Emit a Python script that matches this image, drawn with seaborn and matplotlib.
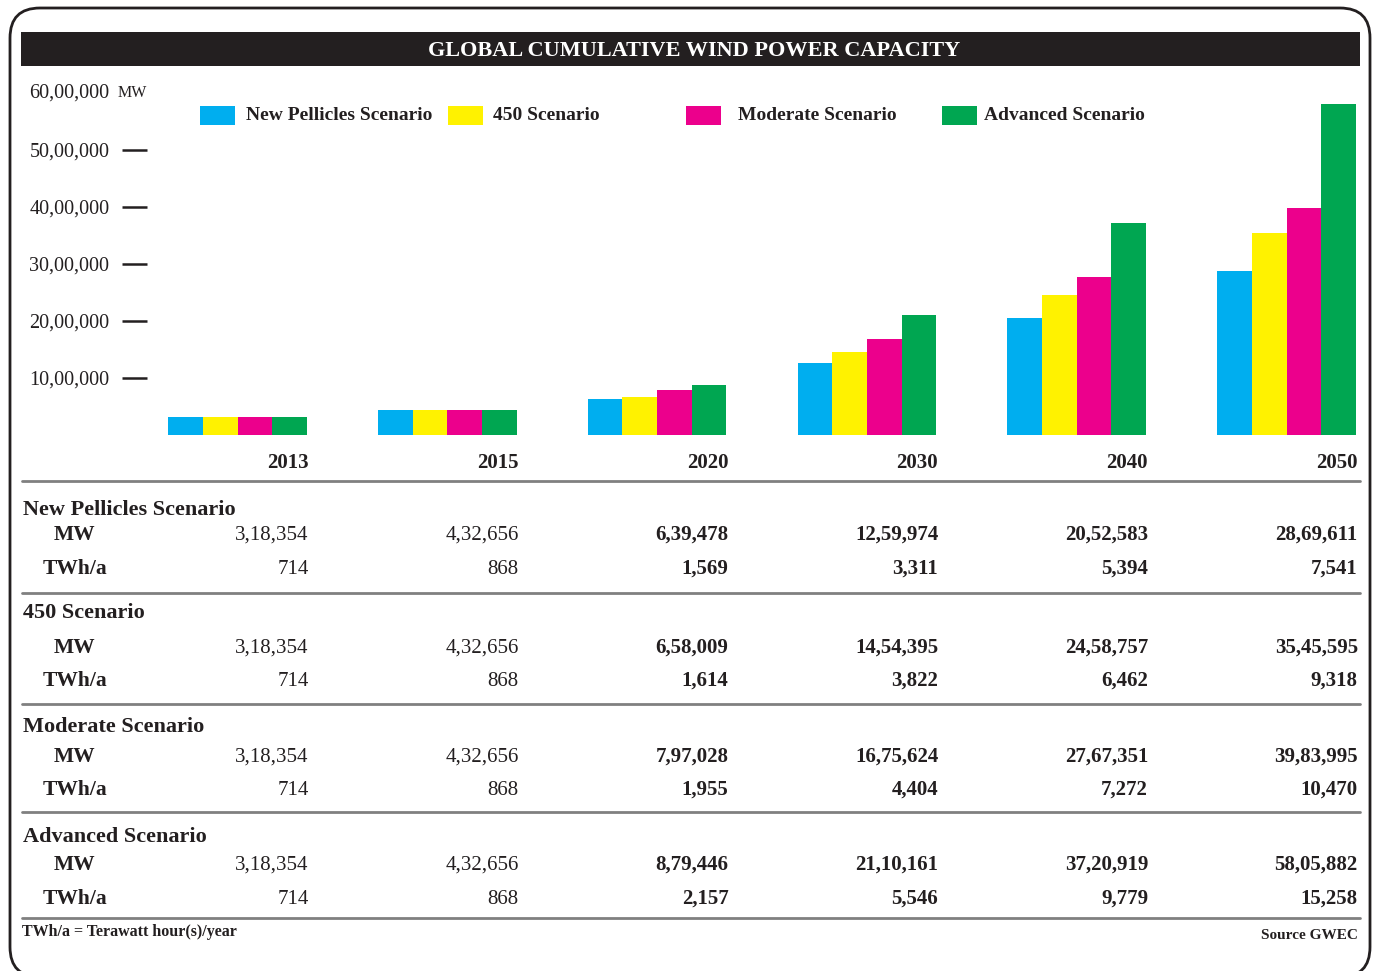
import matplotlib
matplotlib.use("Agg")
import matplotlib.pyplot as plt
import matplotlib.transforms as mtransforms
from matplotlib.patches import FancyBboxPatch, Rectangle
import seaborn as sns
import pandas as pd

# ---------------- data ----------------
years = ["2013", "2015", "2020", "2030", "2040", "2050"]
scenarios = ["New Pellicles Scenario", "450 Scenario", "Moderate Scenario", "Advanced Scenario"]
colors = ["#00aeef", "#fff200", "#ec008c", "#00a651"]

nps_mw = [318354, 432656, 639478, 1259974, 2052583, 2869611]
nps_twh = [714, 868, 1569, 3311, 5394, 7541]
s450_mw = [318354, 432656, 658009, 1454395, 2458757, 3545595]
s450_twh = [714, 868, 1614, 3822, 6462, 9318]
mod_mw = [318354, 432656, 797028, 1675624, 2767351, 3983995]
mod_twh = [714, 868, 1955, 4404, 7272, 10470]
adv_mw = [318354, 432656, 879446, 2110161, 3720919, 5805882]
adv_twh = [714, 868, 2157, 5546, 9779, 15258]

y_ticks = [1000000, 2000000, 3000000, 4000000, 5000000]
y_top_label = 6000000

title = "GLOBAL CUMULATIVE WIND POWER CAPACITY"
footnote = "TWh/a = Terawatt hour(s)/year"
source = "Source GWEC"

mw_series = [nps_mw, s450_mw, mod_mw, adv_mw]
twh_series = [nps_twh, s450_twh, mod_twh, adv_twh]

rows = []
for sc, vals in zip(scenarios, mw_series):
    for yr, v in zip(years, vals):
        rows.append({"year": yr, "scenario": sc, "MW": v})
df = pd.DataFrame(rows)


def indian(n):
    s = str(int(n))
    if len(s) <= 3:
        return s
    last3, rest = s[-3:], s[:-3]
    groups = []
    while len(rest) > 2:
        groups.insert(0, rest[-2:])
        rest = rest[:-2]
    if rest:
        groups.insert(0, rest)
    return ",".join(groups + [last3])


# ---------------- figure ----------------
W, H = 1376, 971
sns.set_theme(style="white")
plt.rcParams["font.family"] = ["Liberation Serif", "DejaVu Serif"]
fig = plt.figure(figsize=(W / 100, H / 100), dpi=100)
fig.patch.set_facecolor("white")


def fy(y):
    return 1 - y / H


def fx(x):
    return x / W


# rounded border
border = FancyBboxPatch((0.10, -0.06), 13.60, 9.69,
                        boxstyle="round,pad=0,rounding_size=0.3",
                        transform=fig.dpi_scale_trans, fill=False,
                        edgecolor="#231f20", linewidth=2.0)
fig.patches.append(border)

# title bar
fig.patches.append(Rectangle((fx(21), fy(66)), fx(1360) - fx(21), fy(32) - fy(66),
                             transform=fig.transFigure, facecolor="#231f20",
                             edgecolor="none"))
fig.text(fx(694), fy(51), title, color="white", fontsize=16, fontweight="bold",
         ha="center", va="center")

# bar axes
ax_left, ax_right, base_y, top_y = 147, 1360, 435, 90
ax = fig.add_axes([fx(ax_left), fy(base_y), fx(ax_right) - fx(ax_left), (base_y - top_y) / H])
sns.barplot(data=df, x="year", y="MW", hue="scenario", order=years, hue_order=scenarios,
            palette=colors, width=0.66, saturation=1, linewidth=0, legend=False, ax=ax)
ppu = 209.8
ax.set_xlim(-(237.5 - ax_left) / ppu, 5 + (ax_right - 1286.5) / ppu)
ax.set_ylim(0, (base_y - top_y) / 57 * 1e6)
for sp in ax.spines.values():
    sp.set_visible(False)
ax.set_facecolor("none")
ax.set_xlabel("")
ax.set_ylabel("")
ax.set_xticks([])
ax.set_yticks(y_ticks)
ax.set_yticklabels([indian(v) for v in y_ticks], fontsize=14.5, color="#231f20")
ax.tick_params(axis="y", direction="out", length=18, width=1.8, color="#231f20",
               pad=9, left=True)
bt = mtransforms.blended_transform_factory(ax.transAxes, ax.transData)
ax.text(-0.031, y_top_label, indian(y_top_label), transform=bt,
        ha="right", va="center", fontsize=14.5, color="#231f20")
ax.text(-0.024, y_top_label, "MW", transform=bt,
        ha="left", va="center", fontsize=11.5, color="#231f20")

# legend (manual)
leg_x = [(200, 246), (448, 493), (686, 738), (942, 984)]
for (px, tx), sc, col in zip(leg_x, scenarios, colors):
    fig.patches.append(Rectangle((fx(px), fy(125)), fx(35), 19 / H,
                                 transform=fig.transFigure, facecolor=col, edgecolor="none"))
    fig.text(fx(tx), fy(116), sc, fontsize=14, fontweight="bold", color="#231f20",
             ha="left", va="center")

# table
tr = mtransforms.blended_transform_factory(ax.transData, fig.transFigure)
col_off = 0.34
for i, yr in enumerate(years):
    fig.text(i + col_off, fy(463), yr, transform=tr, ha="right", va="center",
             fontsize=15, fontweight="bold", color="#231f20")

line_ys = [481, 593, 704, 812, 918]
for ly in line_ys:
    fig.add_artist(plt.Line2D([fx(22), fx(1360)], [fy(ly), fy(ly)], transform=fig.transFigure,
                              color="#808080", linewidth=2))

title_ys = [510, 613, 727, 837]
mw_ys = [535, 648, 757, 865]
twh_ys = [569, 681, 790, 899]
for k, sc in enumerate(scenarios):
    fig.text(fx(23), fy(title_ys[k]), sc, ha="left", va="center", fontsize=16,
             fontweight="bold", color="#231f20")
    fig.text(fx(75), fy(mw_ys[k]), "MW", ha="center", va="center", fontsize=15.5,
             fontweight="bold", color="#231f20")
    fig.text(fx(75), fy(twh_ys[k]), "TWh/a", ha="center", va="center", fontsize=15.5,
             fontweight="bold", color="#231f20")
    for i in range(len(years)):
        w = "bold" if i >= 2 else "normal"
        fig.text(i + col_off, fy(mw_ys[k]), indian(mw_series[k][i]), transform=tr,
                 ha="right", va="center", fontsize=15, fontweight=w, color="#231f20")
        fig.text(i + col_off, fy(twh_ys[k]), indian(twh_series[k][i]), transform=tr,
                 ha="right", va="center", fontsize=15, fontweight=w, color="#231f20")

fig.text(fx(22), fy(932), footnote, ha="left", va="center", fontsize=11.5,
         fontweight="bold", color="#231f20")
fig.text(fx(1358), fy(935), source, ha="right", va="center", fontsize=11,
         fontweight="bold", color="#231f20")

fig.savefig("out.png", dpi=100, facecolor="white")
